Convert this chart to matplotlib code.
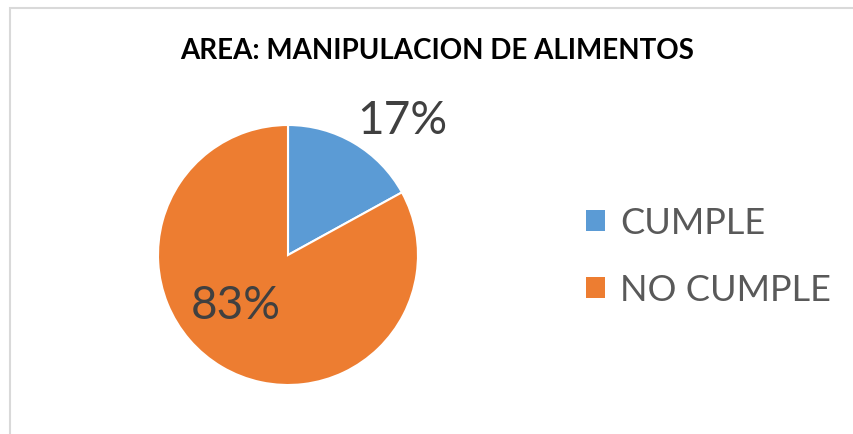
import matplotlib
matplotlib.use('Agg')
import matplotlib.pyplot as plt
from matplotlib.patches import Rectangle

# Datos
categorias = ['CUMPLE', 'NO CUMPLE']
porcentajes = [17, 83]
colores = ['#5B9BD5', '#ED7D31']
titulo = 'AREA: MANIPULACION DE ALIMENTOS'

W, H = 854, 435
fig = plt.figure(figsize=(W / 100, H / 100), dpi=100)
plt.rcParams['font.family'] = ['Lato', 'DejaVu Sans']

# marco gris del grafico (recortado a la derecha y abajo)
fig.patches.append(Rectangle((10 / W, -0.1), 1, 1.1 - 9 / H, transform=fig.transFigure,
                             fill=False, edgecolor='#D9D9D9', linewidth=1.5))

# ejes del pastel (centro ~ (288, 256), radio ~130 px)
cx, cy, r = 288, 256, 130
ax = fig.add_axes([(cx - r) / W, (H - cy - r) / H, 2 * r / W, 2 * r / H])
wedges, _ = ax.pie(porcentajes, colors=colores, startangle=90, counterclock=False,
                   wedgeprops={'edgecolor': 'white', 'linewidth': 1.5})
ax.set_xlim(-1, 1)
ax.set_ylim(-1, 1)
ax.set_aspect('equal')
ax.axis('off')

# etiquetas de porcentaje
fig.text(402 / W, 1 - 121 / H, f'{porcentajes[0]}%', fontsize=33, color='#404040',
         ha='center', va='center')
fig.text(236 / W, 1 - 306 / H, f'{porcentajes[1]}%', fontsize=33, color='#404040',
         ha='center', va='center')

fig.text(437 / W, 1 - 51 / H, titulo, fontsize=20, fontweight='bold', color='black',
         ha='center', va='center')

# leyenda
leg = fig.legend(wedges, categorias, loc='center left', bbox_to_anchor=(586 / W, 1 - 257 / H),
                 frameon=False, fontsize=26, labelcolor='#595959', handlelength=0.52,
                 handleheight=0.52, handletextpad=0.42, labelspacing=0.95,
                 borderpad=0, borderaxespad=0)
for h in leg.legend_handles:
    h.set_edgecolor('none')

fig.savefig('out.png', dpi=100)
